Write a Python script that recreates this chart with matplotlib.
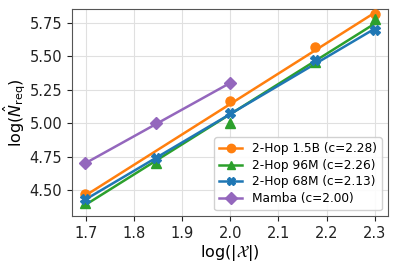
import matplotlib
matplotlib.use("Agg")
import matplotlib.pyplot as plt
import numpy as np

# data
names = ["2-Hop 1.5B (c=2.28)", "2-Hop 96M (c=2.26)", "2-Hop 68M (c=2.13)", "Mamba (c=2.00)"]
x_15b = [1.699, 2.0, 2.176, 2.301]
y_15b = [4.47, 5.17, 5.57, 5.82]
x_96m = [1.699, 1.845, 2.0, 2.176, 2.301]
y_96m = [4.40, 4.70, 5.00, 5.46, 5.78]
x_68m = [1.699, 1.845, 2.0, 2.176, 2.301]
y_68m = [4.43, 4.74, 5.08, 5.47, 5.70]
x_mamba = [1.699, 1.845, 2.0]
y_mamba = [4.70, 5.00, 5.30]
slopes = [2.28, 2.26, 2.13, 2.00]
intercepts = [0.584, 0.548, 0.809, 1.302]
xticks = [1.7, 1.8, 1.9, 2.0, 2.1, 2.2, 2.3]
yticks = [4.50, 4.75, 5.00, 5.25, 5.50, 5.75]

colors = ["#ff7f0e", "#2ca02c", "#1f77b4", "#9467bd"]
markers = ["o", "^", "X", "D"]

fig = plt.figure(figsize=(3.99, 2.66), dpi=100)
ax = fig.add_axes([0.180, 0.188, 0.792, 0.778])

series = [(x_15b, y_15b), (x_96m, y_96m), (x_68m, y_68m), (x_mamba, y_mamba)]
for (xs, ys), name, c, m, s, b in zip(series, names, colors, markers, slopes, intercepts):
    xs = np.array(xs)
    xf = np.array([xs.min(), xs.max()])
    ax.plot(xf, s * xf + b, color=c, lw=1.8, zorder=2)
    ax.plot(xs, ys, linestyle="none", marker=m, color=c, ms=6.5, zorder=3)
    ax.plot([], [], color=c, marker=m, ms=6, lw=1.8, label=name)

ax.set_xlim(1.671, 2.327)
ax.set_ylim(4.305, 5.855)
ax.set_xticks(xticks)
ax.set_yticks(yticks)
ax.grid(True, color="#e0e0e0", lw=0.8)
ax.set_axisbelow(True)
for sp in ax.spines.values():
    sp.set_color("#555555")
ax.tick_params(labelsize=10.5, colors="#222222", direction="out", length=3.5)
ax.set_xlabel(r"log($|\mathcal{X}|$)", fontsize=11.5, labelpad=2)
ax.set_ylabel(r"log($\hat{N}_{\rm req}$)", fontsize=11.5, labelpad=1)
ax.legend(loc="lower right", fontsize=8.7, framealpha=0.9, handlelength=1.9, borderpad=0.4, labelspacing=0.3)

fig.savefig("out.png", dpi=100)
